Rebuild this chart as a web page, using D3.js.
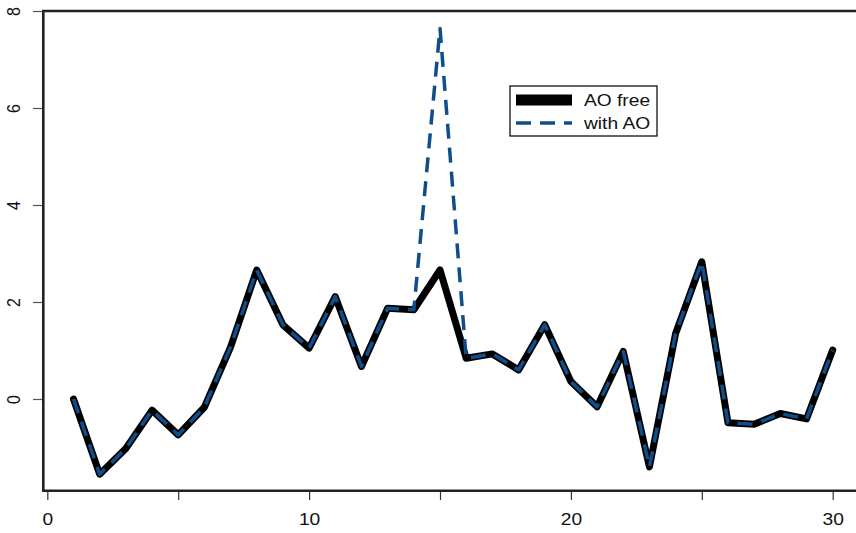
<!DOCTYPE html>
<html>
<head>
<meta charset="utf-8">
<script src="https://cdn.jsdelivr.net/npm/d3@7"></script>
<style>
  html, body { margin: 0; padding: 0; background: #fff; }
  svg { display: block; }
  text { font-family: "Liberation Sans", Arial, sans-serif; }
</style>
</head>
<body>
<svg id="chart" width="856" height="533"></svg>
<script>
// Time index 1..30
const timeIndex = d3.range(1, 31);

// Series without the additive outlier
const aoFree = [0.00, -1.55, -1.02, -0.23, -0.74, -0.17, 1.07, 2.66, 1.53, 1.05,
                2.11, 0.67, 1.87, 1.84, 2.66, 0.84, 0.93, 0.60, 1.53, 0.36,
                -0.16, 0.98, -1.40, 1.35, 2.83, -0.49, -0.52, -0.30, -0.41, 1.01];

// Same series with an additive outlier at t = 15
const withAO = [0.00, -1.55, -1.02, -0.23, -0.74, -0.17, 1.07, 2.66, 1.53, 1.05,
                2.11, 0.67, 1.87, 1.84, 7.64, 0.84, 0.93, 0.60, 1.53, 0.36,
                -0.16, 0.98, -1.40, 1.35, 2.83, -0.49, -0.52, -0.30, -0.41, 1.01];

const xTicks = [0, 5, 10, 15, 20, 25, 30];
const xTickLabels = ["0", "", "10", "", "20", "", "30"];
const yTicks = [0, 2, 4, 6, 8];
const yTickLabels = ["0", "2", "4", "6", "8"];
const legendLabels = ["AO free", "with AO"];

const blue = "#104E8B";
const textStretch = 1.2;   // glyphs are drawn a little wider than tall
const fontSize = 16;
const svg = d3.select("#chart");

const x = d3.scaleLinear().domain([0, 30]).range([47.3, 832.7]);
const y = d3.scaleLinear().domain([0, 8]).range([399, 11]);

const boxLeft = 43.3, boxTop = 11, boxBottom = 490.7, boxRight = 870;

// Plot frame (left, top, bottom edges)
svg.append("path")
  .attr("d", `M${boxRight},${boxTop}H${boxLeft}V${boxBottom}H${boxRight}`)
  .attr("fill", "none")
  .attr("stroke", "#222")
  .attr("stroke-width", 2.6);

// Bottom axis
const xAxis = svg.append("g")
  .attr("transform", `translate(0,${boxBottom + 1.3})`)
  .call(d3.axisBottom(x)
    .tickValues(xTicks)
    .tickSize(8)
    .tickPadding(14)
    .tickFormat((d, i) => xTickLabels[i]));
xAxis.select(".domain").remove();
xAxis.selectAll(".tick line").attr("stroke", "#333").attr("stroke-width", 1.2);
xAxis.selectAll(".tick text")
  .attr("font-size", fontSize)
  .attr("fill", "#111")
  .attr("font-family", "Liberation Sans, Arial, sans-serif")
  .attr("transform", `scale(${textStretch},1)`);

// Left axis with labels parallel to the axis
const yAxis = svg.append("g")
  .attr("transform", `translate(${boxLeft - 1.3},0)`)
  .call(d3.axisLeft(y)
    .tickValues(yTicks)
    .tickSize(9)
    .tickFormat((d, i) => yTickLabels[i]));
yAxis.select(".domain").remove();
yAxis.selectAll(".tick line").attr("stroke", "#555").attr("stroke-width", 1.2);
yAxis.selectAll(".tick text")
  .attr("font-size", fontSize)
  .attr("fill", "#111")
  .attr("font-family", "Liberation Sans, Arial, sans-serif")
  .attr("x", null).attr("dy", null)
  .attr("text-anchor", "middle")
  .attr("transform", `translate(-22,0) scale(${textStretch},1) rotate(-90)`);

const line = d3.line()
  .x((d, i) => x(timeIndex[i]))
  .y(d => y(d));

// AO-free series: thick solid black
svg.append("path")
  .datum(aoFree)
  .attr("d", line)
  .attr("fill", "none")
  .attr("stroke", "#000")
  .attr("stroke-width", 7)
  .attr("stroke-linejoin", "round")
  .attr("stroke-linecap", "round");

// Series with outlier: dashed blue
svg.append("path")
  .datum(withAO)
  .attr("d", line)
  .attr("fill", "none")
  .attr("stroke", blue)
  .attr("stroke-width", 3.5)
  .attr("stroke-dasharray", "15,9")
  .attr("stroke-linejoin", "round");

// Legend
const lg = svg.append("g").attr("transform", "translate(510,86)");
lg.append("rect")
  .attr("width", 147).attr("height", 50)
  .attr("fill", "#fff")
  .attr("stroke", "#111")
  .attr("stroke-width", 1.3);
lg.append("line")
  .attr("x1", 6).attr("x2", 62).attr("y1", 14).attr("y2", 14)
  .attr("stroke", "#000").attr("stroke-width", 11);
lg.append("line")
  .attr("x1", 6).attr("x2", 62).attr("y1", 37).attr("y2", 37)
  .attr("stroke", blue).attr("stroke-width", 3.5)
  .attr("stroke-dasharray", "15,9");
lg.selectAll("text.lab")
  .data(legendLabels)
  .join("text")
  .attr("class", "lab")
  .attr("transform", (d, i) => `translate(74,${14 + i * 23}) scale(${textStretch},1)`)
  .attr("dy", "0.35em")
  .attr("font-size", fontSize)
  .attr("fill", "#111")
  .text(d => d);
</script>
</body>
</html>
